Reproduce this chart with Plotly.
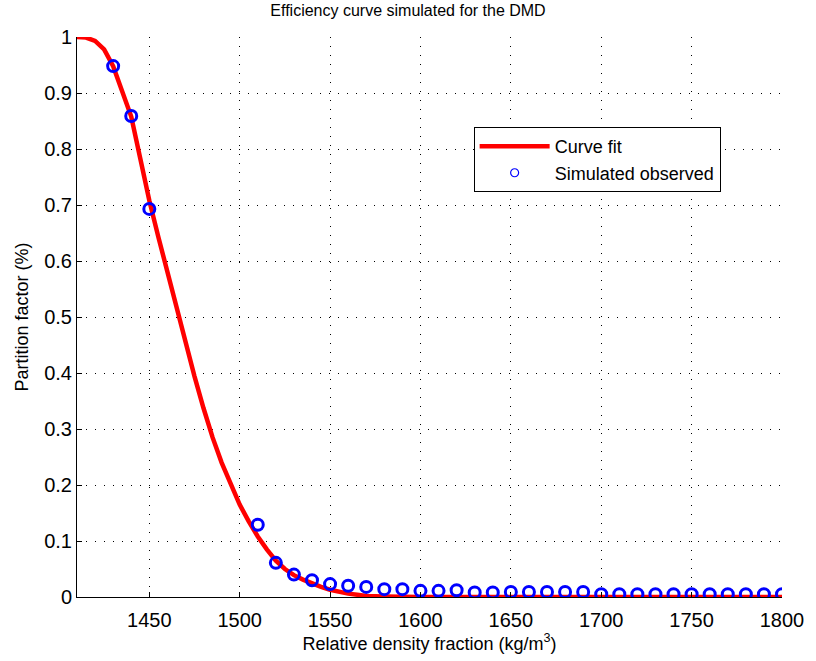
import plotly.graph_objects as go

# Fitted partition curve (density, partition factor)
fit_density = [1410, 1415, 1420, 1425, 1430, 1435, 1440, 1445, 1450, 1455,
               1460, 1465, 1470, 1475, 1480, 1485, 1490, 1495, 1500, 1505,
               1510, 1515, 1520, 1525, 1530, 1535, 1540, 1545, 1550, 1555,
               1560, 1565, 1570, 1580, 1600, 1650, 1700, 1750, 1800]
fit_partition = [1.0, 0.999, 0.993, 0.978, 0.948, 0.905, 0.858, 0.783, 0.708, 0.643,
                 0.580, 0.517, 0.455, 0.394, 0.337, 0.285, 0.240, 0.200, 0.165, 0.135,
                 0.108, 0.085, 0.065, 0.050, 0.039, 0.031, 0.024, 0.018, 0.013, 0.009,
                 0.006, 0.004, 0.002, 0.001, 0.0, 0.0, 0.0, 0.0, 0.0]

# Simulated observed partition factors
obs_density = [1430, 1440, 1450, 1510, 1520, 1530, 1540, 1550, 1560, 1570,
               1580, 1590, 1600, 1610, 1620, 1630, 1640, 1650, 1660, 1670,
               1680, 1690, 1700, 1710, 1720, 1730, 1740, 1750, 1760, 1770,
               1780, 1790, 1800]
obs_partition = [0.948, 0.859, 0.693, 0.129, 0.061, 0.040, 0.030, 0.023, 0.020, 0.018,
                 0.014, 0.014, 0.011, 0.011, 0.012, 0.008, 0.008, 0.009, 0.009, 0.009,
                 0.009, 0.009, 0.005, 0.005, 0.005, 0.005, 0.005, 0.005, 0.005, 0.005,
                 0.005, 0.005, 0.005]

x_ticks = [1450, 1500, 1550, 1600, 1650, 1700, 1750, 1800]
y_ticks = [0, 0.1, 0.2, 0.3, 0.4, 0.5, 0.6, 0.7, 0.8, 0.9, 1]

FONT = "Liberation Sans, Arial, sans-serif"
RED = "#ff0000"
BLUE = "#0000ff"

fig = go.Figure()
fig.add_trace(go.Scatter(
    x=fit_density, y=fit_partition, mode="lines", name="Curve fit",
    line=dict(color=RED, width=4.5),
))
fig.add_trace(go.Scatter(
    x=obs_density, y=obs_partition, mode="markers", name="Simulated observed",
    marker=dict(symbol="circle-open", size=11, color=BLUE,
                line=dict(width=3, color=BLUE)),
    showlegend=False,
))
# legend key for the observed points uses a thin, small circle
fig.add_trace(go.Scatter(
    x=[None], y=[None], mode="markers", name="Simulated observed",
    marker=dict(symbol="circle-open", size=8, color=BLUE,
                line=dict(width=1.2, color=BLUE)),
))

axis_common = dict(
    showline=True, linecolor="black", linewidth=1,
    ticks="inside", ticklen=5, tickcolor="black",
    showgrid=True, gridcolor="black", gridwidth=1, griddash="1px,8px",
    zeroline=False, mirror=False,
    tickfont=dict(family=FONT, size=20, color="black"),
)

fig.update_xaxes(
    range=[1410, 1800], tickvals=x_ticks, ticklabelstandoff=5,
    title=dict(text="Relative density fraction (kg/m<sup>3</sup>)",
               font=dict(family=FONT, size=18, color="black"), standoff=4),
    **axis_common,
)
fig.update_yaxes(
    range=[0, 1], tickvals=y_ticks,
    ticktext=[f"{v:g}" for v in y_ticks],
    title=dict(text="Partition factor (%)",
               font=dict(family=FONT, size=18, color="black"), standoff=10),
    **axis_common,
)

fig.update_layout(
    width=816, height=661,
    margin=dict(l=77, r=28, t=37, b=64),
    paper_bgcolor="white", plot_bgcolor="white",
    title=dict(text="Efficiency curve simulated for the DMD",
               font=dict(family=FONT, size=16, color="black"),
               x=0.5, xanchor="center", y=0.992, yanchor="top"),
    legend=dict(x=0.5626, y=0.839, xanchor="left", yanchor="top",
                bordercolor="black", borderwidth=1, bgcolor="white",
                font=dict(family=FONT, size=18, color="black"),
                tracegroupgap=0, itemwidth=70),
    showlegend=True,
)

fig.write_html("out.html")
